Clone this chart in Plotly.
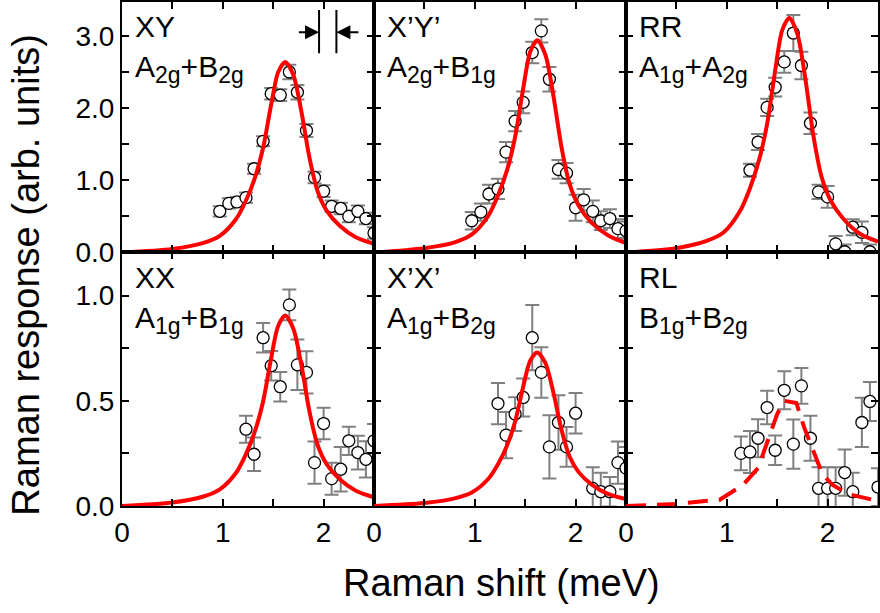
import plotly.graph_objects as go

# ---------------- data ----------------
# Raman shift (meV) of the measured points
E_XY   = [0.97, 1.06, 1.14, 1.23, 1.31, 1.40, 1.48, 1.57, 1.66, 1.74, 1.83, 1.91, 2.00, 2.08, 2.17, 2.25, 2.34, 2.42, 2.50]
XY_Y   = [0.57, 0.68, 0.70, 0.76, 1.16, 1.54, 2.20, 2.18, 2.50, 2.22, 1.69, 1.04, 0.85, 0.64, 0.61, 0.50, 0.57, 0.47, 0.27]
XY_ERR = [0.07, 0.07, 0.07, 0.07, 0.07, 0.07, 0.08, 0.08, 0.10, 0.10, 0.09, 0.08, 0.08, 0.08, 0.08, 0.08, 0.08, 0.08, 0.08]

E_XpYp   = [0.97, 1.06, 1.14, 1.23, 1.31, 1.40, 1.48, 1.57, 1.66, 1.74, 1.83, 1.91, 2.00, 2.08, 2.17, 2.25, 2.34, 2.42, 2.50]
XpYp_Y   = [0.44, 0.56, 0.81, 0.88, 1.39, 1.82, 2.08, 2.77, 3.07, 2.40, 1.15, 1.10, 0.62, 0.73, 0.57, 0.44, 0.47, 0.33, 0.30]
XpYp_ERR = [0.12, 0.12, 0.13, 0.14, 0.14, 0.14, 0.15, 0.15, 0.16, 0.17, 0.13, 0.14, 0.18, 0.15, 0.15, 0.13, 0.13, 0.13, 0.13]

E_RR   = [1.23, 1.31, 1.40, 1.48, 1.57, 1.66, 1.74, 1.83, 1.91, 2.00, 2.08, 2.17, 2.25, 2.34, 2.42]
RR_Y   = [1.14, 1.53, 2.01, 2.29, 2.64, 3.04, 2.59, 1.79, 0.84, 0.77, 0.12, 0.01, 0.35, 0.28, 0.01]
RR_ERR = [0.09, 0.11, 0.12, 0.13, 0.15, 0.25, 0.19, 0.15, 0.10, 0.15, 0.11, 0.10, 0.11, 0.15, 0.10]

E_XX   = [1.23, 1.31, 1.40, 1.48, 1.57, 1.66, 1.74, 1.83, 1.91, 2.00, 2.08, 2.17, 2.25, 2.34, 2.42, 2.50]
XX_Y   = [0.365, 0.246, 0.80, 0.667, 0.567, 0.956, 0.671, 0.635, 0.206, 0.392, 0.13, 0.175, 0.31, 0.254, 0.222, 0.31]
XX_ERR = [0.064, 0.08, 0.07, 0.07, 0.07, 0.073, 0.12, 0.10, 0.10, 0.075, 0.076, 0.106, 0.067, 0.08, 0.086, 0.08]

E_XpXp   = [1.23, 1.31, 1.40, 1.48, 1.57, 1.66, 1.74, 1.83, 1.91, 2.00, 2.17, 2.25, 2.34, 2.42, 2.50]
XpXp_Y   = [0.487, 0.337, 0.437, 0.516, 0.80, 0.635, 0.281, 0.397, 0.281, 0.441, 0.084, 0.068, 0.068, 0.206, 0.18]
XpXp_ERR = [0.098, 0.11, 0.08, 0.09, 0.155, 0.12, 0.15, 0.13, 0.094, 0.096, 0.10, 0.09, 0.07, 0.10, 0.10]

E_RL   = [1.14, 1.23, 1.31, 1.40, 1.48, 1.57, 1.66, 1.74, 1.83, 1.91, 2.00, 2.08, 2.17, 2.25, 2.34, 2.42, 2.50]
RL_Y   = [0.25, 0.257, 0.322, 0.468, 0.265, 0.55, 0.294, 0.571, 0.322, 0.084, 0.084, 0.084, 0.159, 0.068, 0.397, 0.497, 0.09]
RL_ERR = [0.08, 0.10, 0.09, 0.08, 0.07, 0.09, 0.117, 0.085, 0.107, 0.10, 0.10, 0.10, 0.11, 0.09, 0.117, 0.093, 0.09]

# fitted curves
FIT_X      = [0.0, 0.5, 0.8, 0.97, 1.13, 1.23, 1.32, 1.40, 1.48, 1.55, 1.62, 1.70, 1.78, 1.86, 1.94, 2.03, 2.16, 2.32, 2.50]
FIT_XY     = [0.0, 0.05, 0.13, 0.23, 0.46, 0.72, 1.04, 1.45, 2.05, 2.50, 2.64, 2.46, 1.95, 1.31, 0.85, 0.58, 0.37, 0.21, 0.12]
FIT_XpYp   = [0.0, 0.06, 0.14, 0.25, 0.50, 0.79, 1.14, 1.60, 2.27, 2.78, 2.94, 2.74, 2.17, 1.46, 0.95, 0.65, 0.41, 0.24, 0.13]
FIT_RR     = [0.0, 0.06, 0.16, 0.28, 0.57, 0.89, 1.28, 1.78, 2.52, 3.08, 3.25, 3.03, 2.40, 1.61, 1.05, 0.72, 0.46, 0.26, 0.15]
FIT_XX     = [0.0, 0.017, 0.044, 0.079, 0.157, 0.247, 0.357, 0.497, 0.703, 0.857, 0.905, 0.843, 0.669, 0.449, 0.291, 0.199, 0.127, 0.072, 0.041]
FIT_XpXp   = [0.0, 0.014, 0.036, 0.064, 0.127, 0.199, 0.288, 0.401, 0.567, 0.691, 0.73, 0.680, 0.539, 0.362, 0.235, 0.161, 0.102, 0.058, 0.033]
FIT_RL_X   = [0.0, 0.5, 0.93, 1.16, 1.31, 1.42, 1.50, 1.57, 1.69, 1.77, 1.87, 1.95, 2.05, 2.21, 2.50]
FIT_RL     = [0.0, 0.01, 0.03, 0.10, 0.18, 0.325, 0.437, 0.50, 0.49, 0.37, 0.246, 0.15, 0.10, 0.056, 0.024]

LABELS = ["XY", "X\u2019Y\u2019", "RR", "XX", "X\u2019X\u2019", "RL"]
SYMS = [("A", "2g", "B", "2g"), ("A", "2g", "B", "1g"), ("A", "1g", "A", "2g"),
        ("A", "1g", "B", "1g"), ("A", "1g", "B", "2g"), ("B", "1g", "B", "2g")]

TOP_TICKS = [0.0, 1.0, 2.0, 3.0]
TOP_TEXT = ["0.0", "1.0", "2.0", "3.0"]
TOP_MINOR = [0.5, 1.5, 2.5]
BOT_TICKS = [0.0, 0.5, 1.0]
BOT_TEXT = ["0.0", "0.5", "1.0"]
BOT_MINOR = [0.25, 0.75]
X_TICKS = [0, 1, 2]
X_TEXT = ["0", "1", "2"]
X_MINOR = [0.5, 1.5, 2.5]

# resolution marker (XY panel)
RES_LINES_X = [1.955, 2.127]
RES_Y = [2.76, 3.36]
RES_ARROW_Y = 3.05
RES_ARROW_TAILS = [1.74, 2.36]

# ---------------- figure ----------------
FONT = "Liberation Sans, Arial, sans-serif"
RED = "#ff0000"
GREY = "#808080"

data_sets = [
    (E_XY, XY_Y, XY_ERR, FIT_X, FIT_XY, "solid"),
    (E_XpYp, XpYp_Y, XpYp_ERR, FIT_X, FIT_XpYp, "solid"),
    (E_RR, RR_Y, RR_ERR, FIT_X, FIT_RR, "solid"),
    (E_XX, XX_Y, XX_ERR, FIT_X, FIT_XX, "solid"),
    (E_XpXp, XpXp_Y, XpXp_ERR, FIT_X, FIT_XpXp, "solid"),
    (E_RL, RL_Y, RL_ERR, FIT_RL_X, FIT_RL, "dash"),
]

fig = go.Figure()
ROW_SPLIT = 0.503
layout = {}
annotations = []
shapes = []

for i, (ex, ey, ee, fx, fy, style) in enumerate(data_sets):
    n = i + 1
    sfx = "" if n == 1 else str(n)
    row = i // 3
    col = i % 3
    xa = "x" + sfx
    ya = "y" + sfx
    fig.add_trace(go.Scatter(
        x=ex, y=ey, mode="markers", xaxis=xa, yaxis=ya, showlegend=False,
        marker=dict(symbol="circle", size=12, color="white",
                    line=dict(color="black", width=1.3)),
        error_y=dict(type="data", array=ee, color=GREY, thickness=2, width=7),
    ))
    if style == "solid":
        line = dict(color=RED, width=4, shape="spline", smoothing=0.8)
    else:
        line = dict(color=RED, width=4, dash="20px,11px")
    fig.add_trace(go.Scatter(x=fx, y=fy, mode="lines", xaxis=xa, yaxis=ya,
                             showlegend=False, line=line))

    top = row == 0
    layout["xaxis" + sfx] = dict(
        domain=[col / 3, (col + 1) / 3], anchor=ya, range=[0, 2.5],
        tickmode="array", tickvals=X_TICKS, ticktext=X_TEXT, showticklabels=not top,
        ticks="inside", ticklen=7, tickwidth=2, tickcolor="black",
        minor=dict(tickmode="array", tickvals=X_MINOR, ticks="inside", ticklen=7,
                   tickwidth=2, tickcolor="black", showgrid=False),
        showline=True, linecolor="black", linewidth=2, mirror="ticks",
        showgrid=False, zeroline=False,
        tickfont=dict(family=FONT, size=28, color="black"),
    )
    layout["yaxis" + sfx] = dict(
        domain=[ROW_SPLIT, 1] if top else [0, ROW_SPLIT], anchor=xa,
        range=[0, 3.47] if top else [0, 1.205],
        tickmode="array",
        tickvals=TOP_TICKS if top else BOT_TICKS,
        ticktext=TOP_TEXT if top else BOT_TEXT,
        showticklabels=(col == 0),
        ticks="inside", ticklen=7, tickwidth=2, tickcolor="black",
        minor=dict(tickmode="array", tickvals=TOP_MINOR if top else BOT_MINOR,
                   ticks="inside", ticklen=7, tickwidth=2, tickcolor="black",
                   showgrid=False),
        showline=True, linecolor="black", linewidth=2, mirror="ticks",
        showgrid=False, zeroline=False,
        tickfont=dict(family=FONT, size=28, color="black"),
    )
    a, s1, b, s2 = SYMS[i]
    sub = '<sub><span style="font-size:23px">{}</span></sub>'
    annotations.append(dict(
        xref=xa + " domain", yref=ya + " domain", x=0.045, y=0.975,
        xanchor="left", yanchor="top", showarrow=False, text=LABELS[i],
        font=dict(family=FONT, size=30, color="black"),
    ))
    annotations.append(dict(
        xref=xa + " domain", yref=ya + " domain", x=0.045, y=0.815,
        xanchor="left", yanchor="top", showarrow=False,
        text=a + sub.format(s1) + "+" + b + sub.format(s2),
        font=dict(family=FONT, size=30, color="black"),
    ))

# resolution marker in XY panel
for xv in RES_LINES_X:
    shapes.append(dict(type="line", xref="x", yref="y", x0=xv, x1=xv,
                       y0=RES_Y[0], y1=RES_Y[1], line=dict(color="black", width=2)))
annotations.append(dict(xref="x", yref="y", axref="x", ayref="y",
                        x=RES_LINES_X[0], y=RES_ARROW_Y, ax=RES_ARROW_TAILS[0], ay=RES_ARROW_Y,
                        showarrow=True, arrowhead=2, arrowsize=1.4, arrowwidth=2,
                        arrowcolor="black", standoff=0, text=""))
annotations.append(dict(xref="x", yref="y", axref="x", ayref="y",
                        x=RES_LINES_X[1], y=RES_ARROW_Y, ax=RES_ARROW_TAILS[1], ay=RES_ARROW_Y,
                        showarrow=True, arrowhead=2, arrowsize=1.4, arrowwidth=2,
                        arrowcolor="black", standoff=0, text=""))

# axis titles
annotations.append(dict(xref="paper", yref="paper", x=-0.127, y=0.459,
                        xanchor="center", yanchor="middle", textangle=-90, showarrow=False,
                        text="Raman response (arb. units)",
                        font=dict(family=FONT, size=38, color="black")))
annotations.append(dict(xref="paper", yref="paper", x=0.5026, y=-0.152,
                        xanchor="center", yanchor="middle", showarrow=False,
                        text="Raman shift (meV)",
                        font=dict(family=FONT, size=38, color="black")))

fig.update_layout(
    width=880, height=613,
    margin=dict(l=122, r=0, t=1, b=107, pad=0),
    paper_bgcolor="white", plot_bgcolor="white",
    annotations=annotations, shapes=shapes,
    **layout,
)

fig.write_html("out.html", config={"displayModeBar": False},
               post_script="document.body.style.margin='0';document.body.style.padding='0';")
